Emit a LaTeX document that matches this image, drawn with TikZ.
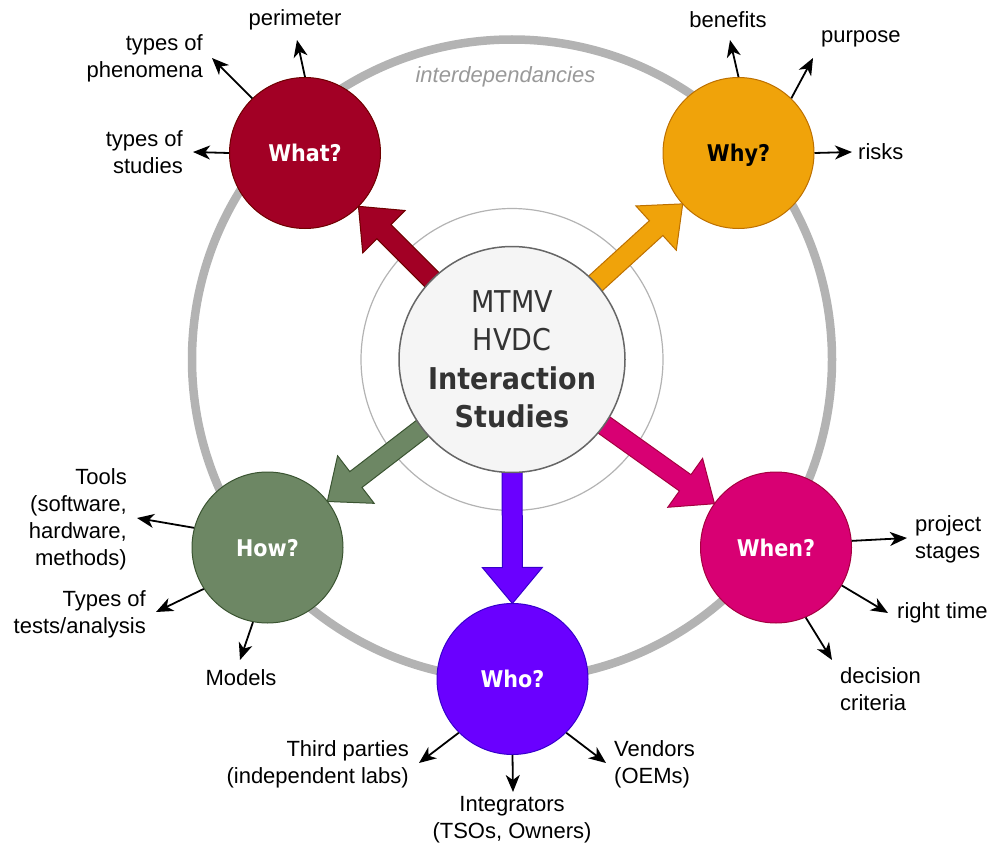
\documentclass[tikz,border=0pt]{standalone}
\usepackage{fontspec}
\setmainfont{Liberation Sans}
\newfontfamily\headfont[FakeStretch=0.9]{DejaVu Sans}
\usetikzlibrary{arrows.meta,calc,backgrounds}
\pgfdeclarelayer{back}
\pgfsetlayers{back,background,main}

\definecolor{whatfill}{HTML}{A20025}\definecolor{whatline}{HTML}{6F0000}
\definecolor{whyfill}{HTML}{F0A30A}\definecolor{whyline}{HTML}{BD7000}
\definecolor{howfill}{HTML}{6D8764}\definecolor{howline}{HTML}{3A5431}
\definecolor{whofill}{HTML}{6A00FF}\definecolor{wholine}{HTML}{3700CC}
\definecolor{whenfill}{HTML}{D80073}\definecolor{whenline}{HTML}{A50040}
\definecolor{corefill}{HTML}{F5F5F5}\definecolor{coreline}{HTML}{666666}
\definecolor{coretext}{HTML}{333333}
\definecolor{ringgray}{HTML}{B3B3B3}
\definecolor{notegray}{HTML}{999999}

% block arrow: #1 fill, #2 outline, #3 start point, #4 tip point
\newcommand{\blockarrow}[4]{%
  \coordinate (bh) at ($(#4)!36pt!(#3)$);
  \draw[fill=#1, draw=#2, line width=1pt]
    ($(#3)!10pt!90:(#4)$) -- ($(bh)!10pt!90:(#4)$) -- ($(bh)!30pt!90:(#4)$) -- (#4)
    -- ($(bh)!30pt!-90:(#4)$) -- ($(bh)!10pt!-90:(#4)$) -- ($(#3)!10pt!-90:(#4)$) -- cycle;
}

\tikzset{
  hub/.style={circle, minimum size=226pt, inner sep=0pt, fill=corefill, draw=coreline,
    line width=1.5pt, align=center, text=coretext,
    font=\headfont\fontsize{30}{38.5}\selectfont},
  topic/.style={circle, minimum size=151pt, inner sep=0pt, line width=1pt, text=white,
    text height=17pt, text depth=0pt,
    font=\headfont\bfseries\fontsize{23}{27}\selectfont},
  leaf/.style={inner sep=0pt, text=black, font=\fontsize{22}{27}\selectfont},
  twig/.style={line width=1.8pt, -{Stealth[length=17pt,width=14pt,inset=5pt]}},
  bigring/.style={draw=ringgray, line width=8.5pt},
  thinring/.style={draw=ringgray, line width=1.2pt},
}

\begin{document}
\begin{tikzpicture}[x=1pt,y=-1pt]
\useasboundingbox (0,0) rectangle (991,848);

% central topic and the five questions
\node[hub] (core) at (512,359.5)
  {MTMV\\HVDC\\\textbf{Interaction}\\\textbf{Studies}};
\node[topic, fill=whatfill, draw=whatline] (what) at (305,153) {What?};
\node[topic, fill=whyfill, draw=whyline, text=black] (why) at (738.5,153) {Why?};
\node[topic, fill=howfill, draw=howline] (how) at (267.5,547.5) {How?};
\node[topic, fill=whofill, draw=wholine] (who) at (512.5,679) {Who?};
\node[topic, fill=whenfill, draw=whenline] (when) at (776,547.5) {When?};

% rings behind everything
\begin{pgfonlayer}{back}
  \draw[bigring] (core.center) circle[radius=320pt];
  \draw[thinring] (core.center) circle[radius=151pt];
\end{pgfonlayer}
\node[font=\itshape\fontsize{22}{27}\selectfont, text=notegray, inner sep=0pt]
  (interdep) at (505.5,77) {interdependancies};

% block arrows from the core to each question
\begin{pgfonlayer}{background}
  \coordinate (what-tip) at ($(what.center)!75.5pt!(core.center)$);
  \coordinate (why-tip)  at ($(why.center)!75.5pt!(core.center)$);
  \coordinate (how-tip)  at ($(how.center)!75.5pt!(core.center)$);
  \coordinate (who-tip)  at ($(who.center)!75.5pt!(core.center)$);
  \coordinate (when-tip) at ($(when.center)!75.5pt!(core.center)$);
  \blockarrow{whatfill}{whatline}{core.center}{what-tip}
  \blockarrow{whyfill}{whyline}{core.center}{why-tip}
  \blockarrow{howfill}{howline}{core.center}{how-tip}
  \blockarrow{whofill}{wholine}{core.center}{who-tip}
  \blockarrow{whenfill}{whenline}{core.center}{when-tip}
\end{pgfonlayer}

% What?
\node[leaf] (perimeter) at (295,20) {perimeter};
\node[leaf, anchor=east, align=right] (phenomena) at (203,58.5) {types of\\phenomena};
\node[leaf, anchor=east, align=right] (studies) at (183,152) {types of\\studies};
\coordinate (perimeter-end) at (297,40);
\coordinate (phenomena-end) at (212,58);
\coordinate (studies-end) at (193,152);
\draw[twig] (what.90) -- (perimeter-end);
\draw[twig] (what.134) -- (phenomena-end);
\draw[twig] (what.180) -- (studies-end);

% Why?
\node[leaf] (benefits) at (728,20) {benefits};
\node[leaf, anchor=west] (purpose) at (821,39) {purpose};
\node[leaf, anchor=west] (risks) at (858,152) {risks};
\coordinate (benefits-end) at (730,40);
\coordinate (purpose-end) at (813,58);
\coordinate (risks-end) at (852,152);
\draw[twig] (why.90) -- (benefits-end);
\draw[twig] (why.46) -- (purpose-end);
\draw[twig] (why.0) -- (risks-end);

% How?
\node[leaf, anchor=east, align=right] (tools) at (127,519.5)
  {Tools\\(software,\\hardware,\\methods)};
\node[leaf, anchor=east, align=right] (tests) at (146,614) {Types of\\tests/analysis};
\node[leaf] (models) at (241,678) {Models};
\coordinate (tools-end) at (137,518);
\coordinate (tests-end) at (156,612);
\coordinate (models-end) at (240,660);
\draw[twig] (how.165) -- (tools-end);
\draw[twig] (how.213) -- (tests-end);
\draw[twig] (how.259) -- (models-end);

% Who?
\node[leaf, anchor=east, align=right] (third) at (409,764)
  {Third parties\\(independent labs)};
\node[leaf, align=center] (integrators) at (512,819.5) {Integrators\\(TSOs, Owners)};
\node[leaf, anchor=west, align=left] (vendors) at (614,764.5) {Vendors\\(OEMs)};
\coordinate (third-end) at (419,763);
\coordinate (integrators-end) at (513,792);
\coordinate (vendors-end) at (606,763);
\draw[twig] (who.225) -- (third-end);
\draw[twig] (who.270) -- (integrators-end);
\draw[twig] (who.315) -- (vendors-end);

% When?
\node[leaf, anchor=west, align=left] (stages) at (915,539) {project\\stages};
\node[leaf, anchor=west] (righttime) at (897,613) {right time};
\node[leaf, anchor=west, align=left] (criteria) at (840,689.5) {decision\\criteria};
\coordinate (stages-end) at (907,538);
\coordinate (righttime-end) at (888,613);
\coordinate (criteria-end) at (832,660);
\draw[twig] (when.5) -- (stages-end);
\draw[twig] (when.330) -- (righttime-end);
\draw[twig] (when.293) -- (criteria-end);
\end{tikzpicture}
\end{document}
